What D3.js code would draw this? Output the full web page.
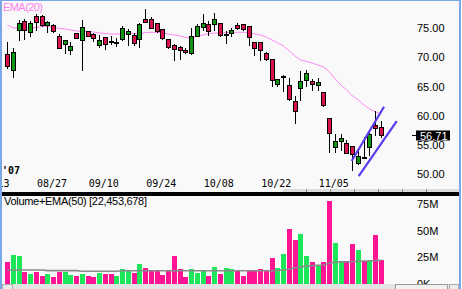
<!DOCTYPE html>
<html>
<head>
<meta charset="utf-8">
<script src="https://cdn.jsdelivr.net/npm/d3@7"></script>
<style>
  body { margin: 0; background: #fff; }
  svg { display: block; }
</style>
</head>
<body>
<svg id="chart" width="462" height="289"></svg>
<script>
// daily bars, index 0 = first visible day
const open = [70.58,67.83,74.71,76.25,74.36,77.11,77.11,75.57,75.57,73.68,
  72.30,71.27,74.19,72.99,74.54,74.02,72.13,73.51,72.85,72.62,
  73.16,74.02,73.85,73.16,76.60,76.60,75.91,74.88,73.16,72.13,
  71.79,71.20,70.76,73.68,75.22,75.74,75.74,75.91,74.00,74.19,
  75.57,75.74,75.40,72.65,72.65,70.76,69.73,65.43,66.78,65.26,
  62.51,64.74,66.12,65.95,65.26,64.06,59.59,54.61,55.64,55.29,
  54.78,51.86,52.92,54.61,58.38,58.04];
const high = [72.65,71.62,76.43,76.60,76.25,77.46,77.30,76.25,75.74,74.02,
  72.99,72.65,74.19,76.43,74.54,74.19,73.85,73.51,73.68,73.33,
  75.40,74.88,74.19,75.91,78.32,76.94,75.91,74.88,73.16,72.30,
  71.96,71.62,75.05,75.74,77.46,76.25,77.63,75.91,74.54,75.05,
  75.91,75.74,75.40,72.65,72.65,70.93,69.73,66.29,66.98,66.46,
  63.37,67.66,67.83,66.29,66.46,64.06,59.59,56.84,56.84,55.81,
  54.78,54.09,56.32,57.01,60.79,59.07];
const low = [68.18,66.63,72.99,73.16,73.68,74.71,75.40,74.36,74.36,71.62,
  70.76,70.58,73.33,67.83,73.68,72.82,71.79,71.44,72.30,71.96,
  72.99,72.13,72.13,71.79,76.08,75.05,74.36,73.16,71.62,69.55,
  69.73,70.76,70.58,73.68,74.71,73.85,74.71,73.68,72.47,73.68,
  74.88,74.71,72.13,70.41,69.55,69.55,65.09,65.09,64.23,62.68,
  58.73,62.68,65.09,64.40,64.40,61.65,53.75,53.75,54.09,53.57,
  50.66,51.69,52.88,53.23,56.67,56.32];
const close = [68.52,70.93,75.91,74.71,75.91,76.08,75.57,76.08,74.54,71.62,
  72.99,71.96,73.33,75.22,73.68,73.33,72.99,72.30,72.80,72.67,
  75.05,74.54,72.47,75.74,76.08,75.05,74.54,73.33,71.79,71.44,
  71.27,70.95,73.68,75.40,75.91,74.54,76.60,73.85,74.05,74.71,
  75.05,74.88,73.51,71.62,71.27,69.73,66.12,66.29,66.82,62.85,
  60.79,65.95,67.32,65.43,65.77,61.82,57.01,55.64,56.15,53.57,
  53.40,53.06,52.88,56.84,57.87,56.71];
// volume in millions
const volume = [20.9,27.2,26.2,11.2,9.4,11.2,7.5,9.4,6.6,11.2,
  11.2,8.4,7.5,9.4,7.5,6.6,10.3,9.4,9.4,7.5,
  14.0,12.2,10.3,18.7,15.0,13.1,12.2,8.4,12.2,26.2,
  14.0,6.6,14.0,10.3,12.2,7.5,15.9,9.4,15.0,14.0,
  13.1,7.5,12.2,13.1,14.0,12.2,24.3,15.0,28.1,51.5,
  41.2,46.8,26.2,20.6,16.8,20.6,77.7,38.4,21.5,21.5,
  37.4,31.8,21.5,22.5,45.9,22.45];
const ema20 = [75.57,75.05,75.05,75.05,75.05,75.14,75.31,75.31,75.22,74.97,
  74.88,74.71,74.54,74.45,74.45,74.36,74.19,74.11,74.02,74.02,
  74.02,74.11,74.11,74.11,74.28,74.31,74.31,74.19,74.02,73.85,
  73.68,73.42,73.33,73.68,73.85,74.11,74.19,74.19,74.28,74.31,
  74.31,74.31,74.28,74.02,73.85,73.51,72.99,72.47,71.96,71.10,
  70.24,69.55,69.30,69.04,68.69,68.35,67.49,66.29,65.26,64.40,
  63.37,62.68,61.82,61.13,60.62,60.28];
const volEma50 = [13.1,13.1,13.1,13.1,13.1,13.1,13.1,12.5,12.5,12.5,
  12.5,12.5,12.5,11.9,11.9,11.9,11.9,11.9,11.9,11.9,
  12.4,12.4,12.4,12.4,12.4,12.4,12.4,12.4,12.4,12.4,
  12.4,12.4,12.4,12.4,12.4,12.4,12.4,12.4,12.4,12.4,
  12.4,12.4,12.4,12.4,12.4,12.4,12.4,12.6,13.1,14.0,
  15.0,16.0,16.8,17.2,17.5,17.8,19.7,20.4,20.6,20.6,
  21.0,21.3,21.5,21.6,22.0,22.2];

const dateLabels = ["08/13","08/27","09/10","09/24","10/08","10/22","11/05"];
const dateIdx = [-2, 8, 17, 27, 37, 47, 57];
const priceTicks = [75, 70, 65, 60, 55, 50];
const volTicks = [0, 25, 50, 75];
const volTickLabels = ["0K", "25M", "50M", "75M"];
const lastPrice = 56.71;
const lastVolume = "22,453,678";

// hand drawn channel lines [index, price]
const channelUpper = [[59.86, 52.20], [65.48, 61.53]];
const channelLower = [[61.08, 49.62], [67.69, 59.07]];

const svg = d3.select('#chart');
const W = 462, H = 289;

const x = d3.scaleLinear().domain([0, 65]).range([7.5, 7.5 + 65 * 5.75]);
const y = d3.scaleLinear().domain([50, 75]).range([173.8, 28.3]);
const vy = d3.scaleLinear().domain([0, 25]).range([284, 257.3]);

const RED = '#d8124a', GREEN = '#0f960f';
const VPINK = '#ff1493', VGREEN = '#1ee65a';

// frame
svg.append('rect').attr('width', W).attr('height', H).attr('fill', '#f9f9f9');
svg.append('rect').attr('x', 0).attr('y', 0).attr('width', W).attr('height', 1).attr('fill', '#7aa8e6');
svg.append('rect').attr('x', 0).attr('y', 0).attr('width', 2).attr('height', H).attr('fill', '#7aa8e6');
svg.append('rect').attr('x', 459).attr('y', 0).attr('width', 2).attr('height', H).attr('fill', '#7aa8e6');
svg.append('rect').attr('x', 461).attr('y', 0).attr('width', 1).attr('height', H).attr('fill', '#fff');

svg.append('defs').append('clipPath').attr('id', 'clip')
  .append('rect').attr('x', 2).attr('y', 1).attr('width', 457).attr('height', 288);

const idx = d3.range(open.length);

// EMA(20)
svg.append('path')
  .datum(ema20)
  .attr('fill', 'none')
  .attr('stroke', '#ff88f4')
  .attr('stroke-width', 1)
  .attr('d', d3.line().x((d, i) => x(i)).y(d => y(d)));

// candles
const candles = svg.append('g');
idx.forEach(i => {
  const left = Math.round(x(i) - 2.5);
  const up = close[i] >= open[i];
  candles.append('line')
    .attr('x1', left + 2.5).attr('x2', left + 2.5)
    .attr('y1', Math.round(y(high[i]))).attr('y2', Math.round(y(low[i])) + 1)
    .attr('stroke', '#000').attr('shape-rendering', 'crispEdges');
  const t = Math.round(y(Math.max(open[i], close[i])));
  const b = Math.round(y(Math.min(open[i], close[i])));
  candles.append('rect')
    .attr('x', left + 0.5).attr('width', 4)
    .attr('y', t + 0.5).attr('height', Math.max(b - t, 1))
    .attr('fill', up ? GREEN : RED)
    .attr('stroke', '#000').attr('stroke-width', 1)
    .attr('shape-rendering', 'crispEdges');
});

// channel
[channelUpper, channelLower].forEach(seg => {
  svg.append('line')
    .attr('x1', x(seg[0][0])).attr('y1', y(seg[0][1]))
    .attr('x2', x(seg[1][0])).attr('y2', y(seg[1][1]))
    .attr('stroke', '#5a3cf0').attr('stroke-width', 2.2);
});

// price axis
const pAxis = svg.append('g')
  .attr('transform', 'translate(417,0)')
  .call(d3.axisRight(y).tickValues(priceTicks).tickSize(0).tickPadding(0)
    .tickFormat(d3.format('.2f')));
pAxis.select('.domain').remove();
pAxis.selectAll('text').attr('font-family', 'Liberation Sans, Arial, sans-serif')
  .attr('font-size', 11).attr('fill', '#000');

// last price box
const ly = Math.round(y(lastPrice));
svg.append('line').attr('x1', 412).attr('x2', 416).attr('y1', ly + 0.5).attr('y2', ly + 0.5)
  .attr('stroke', '#000');
svg.append('rect').attr('x', 416).attr('y', ly - 4.5).attr('width', 34).attr('height', 10)
  .attr('fill', '#000');
svg.append('text').attr('x', 420).attr('y', ly + 4.5).text(d3.format('.2f')(lastPrice))
  .attr('font-family', 'Liberation Sans, Arial, sans-serif').attr('font-size', 11)
  .attr('fill', '#fff');

// EMA label
svg.append('text').attr('x', 3).attr('y', 11).text('EMA(20)')
  .attr('font-family', 'Liberation Sans, Arial, sans-serif').attr('font-size', 11)
  .attr('textLength', 40).attr('fill', '#ff80f0');

// date axis
const xAxis = svg.append('g')
  .attr('clip-path', 'url(#clip)')
  .append('g')
  .attr('transform', 'translate(-2,178)')
  .call(d3.axisBottom(x).tickValues(dateIdx).tickSize(0).tickPadding(2)
    .tickFormat((d, i) => dateLabels[i]));
xAxis.select('.domain').remove();
xAxis.selectAll('text').attr('font-family', 'DejaVu Sans Mono, monospace')
  .attr('font-size', 10).attr('fill', '#000');

svg.append('text').attr('x', 2).attr('y', 174).text("'07")
  .attr('font-family', 'DejaVu Sans Mono, monospace').attr('font-size', 10)
  .attr('font-weight', 'bold').attr('fill', '#000');

// slider strip under price panel
svg.append('rect').attr('x', 283).attr('y', 189).attr('width', 176).attr('height', 3)
  .attr('fill', '#dcdcdc');
d3.range(6).forEach(k => {
  svg.append('rect').attr('x', 306 + k * 24).attr('y', 189).attr('width', 1).attr('height', 3)
    .attr('fill', '#888');
});

// separator
svg.append('rect').attr('x', 2).attr('y', 192).attr('width', 457).attr('height', 4).attr('fill', '#000');

// volume bars
svg.append('g').selectAll('rect')
  .data(idx)
  .join('rect')
  .attr('x', i => Math.round(x(i) - 2.5))
  .attr('width', 5)
  .attr('y', i => Math.round(vy(volume[i])))
  .attr('height', i => Math.round(vy(0)) - Math.round(vy(volume[i])))
  .attr('fill', i => close[i] >= open[i] ? VGREEN : VPINK)
  .attr('shape-rendering', 'crispEdges');

// volume EMA(50)
svg.append('path')
  .datum(volEma50)
  .attr('fill', 'none')
  .attr('stroke', '#8a8a8a')
  .attr('stroke-width', 1.6)
  .attr('d', d3.line().x((d, i) => x(i)).y(d => vy(d)));

// volume axis
const vAxis = svg.append('g')
  .attr('transform', 'translate(417,0)')
  .call(d3.axisRight(vy).tickValues(volTicks).tickSize(0).tickPadding(0)
    .tickFormat((d, i) => volTickLabels[i]));
vAxis.select('.domain').remove();
vAxis.selectAll('text').attr('font-family', 'Liberation Sans, Arial, sans-serif')
  .attr('font-size', 11).attr('fill', '#000');

svg.append('text').attr('x', 4).attr('y', 205).text('Volume+EMA(50)  [' + lastVolume + ']')
  .attr('font-family', 'Liberation Sans, Arial, sans-serif').attr('font-size', 11)
  .attr('textLength', 143).attr('fill', '#000');

// scrollbar
svg.append('rect').attr('x', 2).attr('y', 284).attr('width', 457).attr('height', 5).attr('fill', '#e4e4e4');
svg.append('rect').attr('x', 2.5).attr('y', 284.5).attr('width', 10).attr('height', 6)
  .attr('fill', '#ececec').attr('stroke', '#aaa');
svg.append('rect').attr('x', 395.5).attr('y', 284.5).attr('width', 52).attr('height', 6)
  .attr('fill', '#f2f2f2').attr('stroke', '#999');
svg.append('rect').attr('x', 449.5).attr('y', 284.5).attr('width', 9).attr('height', 6)
  .attr('fill', '#ececec').attr('stroke', '#aaa');
</script>
</body>
</html>
